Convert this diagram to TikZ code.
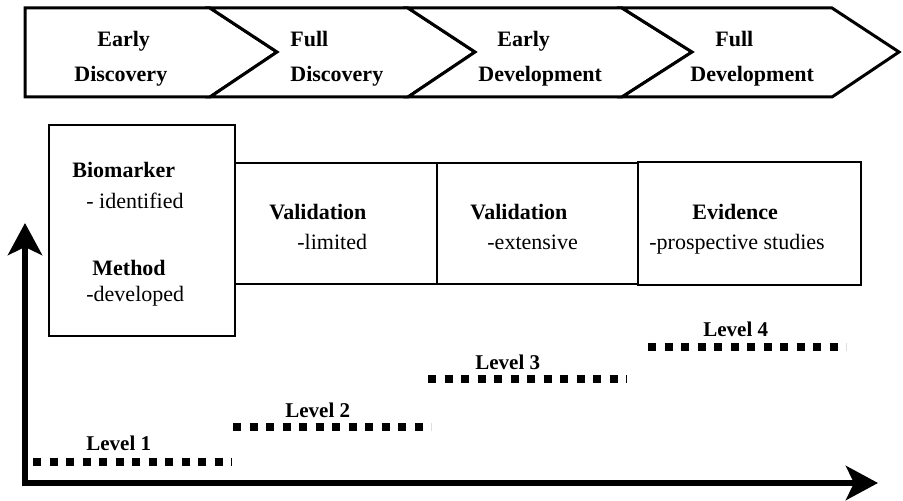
\documentclass[tikz,border=0pt]{standalone}
\usepackage{fontspec}
\setmainfont{Liberation Serif}
\usetikzlibrary{arrows.meta}

\tikzset{
  stage/.style={line width=1.5pt, line join=miter, fill=white},
  stagetext/.style={anchor=base west, inner sep=0pt, font=\fontsize{11}{13}\selectfont\bfseries},
  boxtitle/.style={anchor=base west, inner sep=0pt, font=\fontsize{11}{13}\selectfont\bfseries},
  boxtext/.style={anchor=base west, inner sep=0pt, font=\fontsize{11}{13}\selectfont},
  levelbox/.style={line width=1pt},
  levelline/.style={line width=4pt, dash pattern=on 4pt off 4.25pt},
  leveltext/.style={anchor=base west, inner sep=0pt, font=\fontsize{10.5}{12}\selectfont\bfseries},
  axis/.style={line width=3pt, {Stealth[length=16pt,width=17pt,inset=4pt]}-{Stealth[length=16pt,width=17pt,inset=4pt]}}
}

\begin{document}
\begin{tikzpicture}[x=0.5pt, y=-0.5pt]
    \useasboundingbox (0,0) rectangle (903,501);

    % stages
    \draw[stage] (25,8) -- (210,8) -- (277,52) -- (210,97) -- (25,97) -- cycle;
    \draw[stage] (210,8) -- (408,8) -- (475,52) -- (408,97) -- (210,97) -- (277,52) -- cycle;
    \draw[stage] (408,8) -- (622,8) -- (692,52) -- (622,97) -- (408,97) -- (475,52) -- cycle;
    \draw[stage] (622,8) -- (832,8) -- (899,52) -- (832,97) -- (622,97) -- (692,52) -- cycle;

    \node[stagetext] (early1) at (97,47) {Early};
    \node[stagetext] (disc1) at (74,82) {Discovery};
    \node[stagetext] (full1) at (290,47) {Full};
    \node[stagetext] (disc2) at (290,82) {Discovery};
    \node[stagetext] (early2) at (497,47) {Early};
    \node[stagetext] (dev1) at (478,82) {Development};
    \node[stagetext] (full2) at (715,47) {Full};
    \node[stagetext] (dev2) at (690,82) {Development};

    % boxes
    \draw[levelbox] (49,125) rectangle (235,336);
    \draw[levelbox] (235,163) rectangle (437,284);
    \draw[levelbox] (437,163) rectangle (638,284);
    \draw[levelbox] (638,162) rectangle (861,285);

    \node[boxtitle] (bio) at (72,178) {Biomarker};
    \node[boxtext] (bioid) at (86,209) {- identified};
    \node[boxtitle] (meth) at (92,276) {Method};
    \node[boxtext] (methdev) at (86,302) {-developed};
    \node[boxtitle] (val1) at (269,220) {Validation};
    \node[boxtext] (lim) at (297,250) {-limited};
    \node[boxtitle] (val2) at (470,220) {Validation};
    \node[boxtext] (ext) at (487,250) {-extensive};
    \node[boxtitle] (evid) at (692,220) {Evidence};
    \node[boxtext] (prosp) at (649,250) {-prospective studies};

    % levels
    \coordinate (l1a) at (33,462);  \coordinate (l1b) at (232,462);
    \coordinate (l2a) at (233,427); \coordinate (l2b) at (431,427);
    \coordinate (l3a) at (428,379); \coordinate (l3b) at (627,379);
    \coordinate (l4a) at (648,347); \coordinate (l4b) at (846,347);
    \draw[levelline] (l1a) -- (l1b);
    \draw[levelline] (l2a) -- (l2b);
    \draw[levelline] (l3a) -- (l3b);
    \draw[levelline] (l4a) -- (l4b);
    \node[leveltext] (lev1) at (86,450) {Level 1};
    \node[leveltext] (lev2) at (285,417) {Level 2};
    \node[leveltext] (lev3) at (475,370) {Level 3};
    \node[leveltext] (lev4) at (703,337) {Level 4};

    % axes
    \coordinate (ytip) at (25,223);
    \coordinate (xtip) at (878,483);
    \draw[axis] (ytip) |- (xtip);
\end{tikzpicture}
\end{document}
